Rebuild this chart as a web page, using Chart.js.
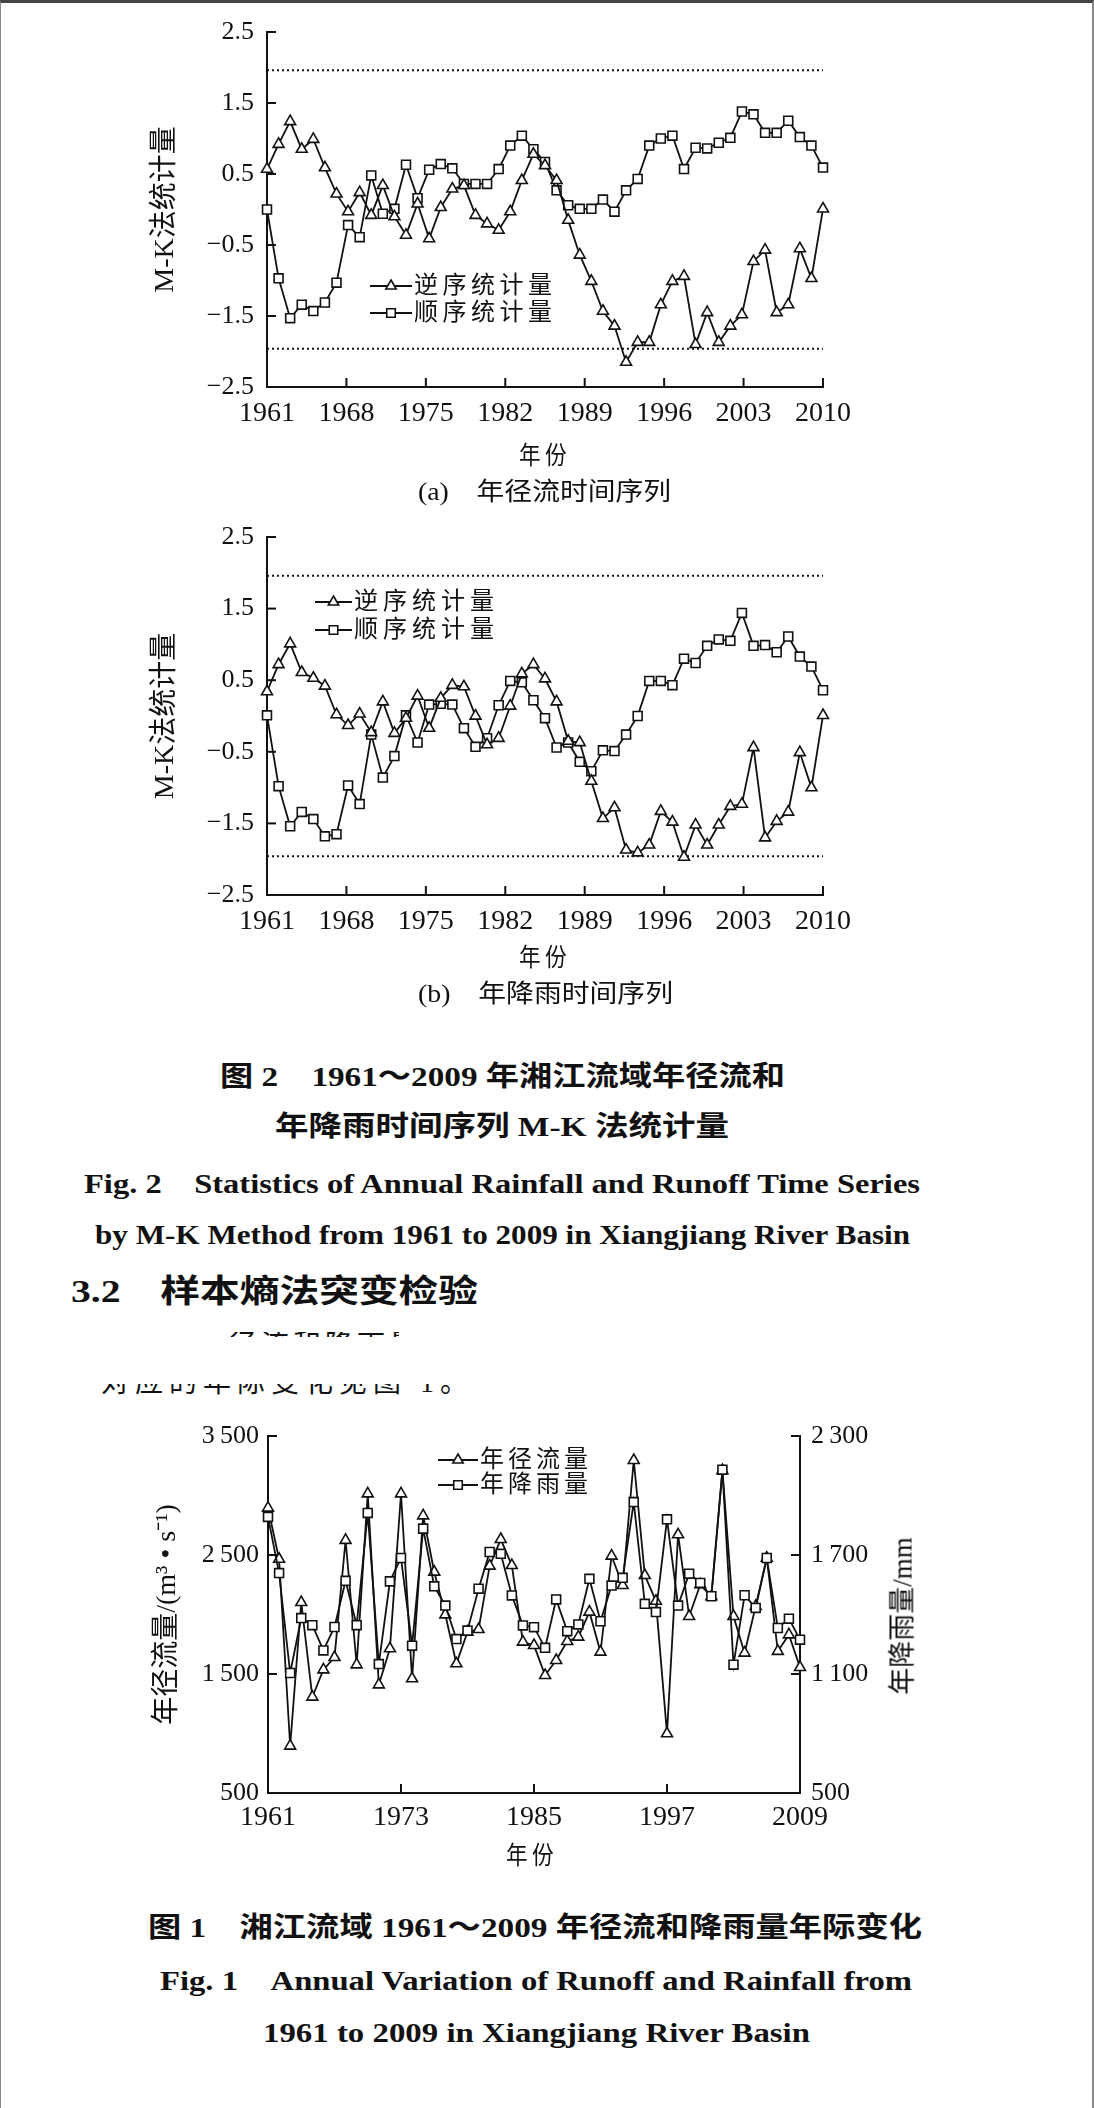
<!DOCTYPE html>
<html>
<head>
<meta charset="utf-8">
<script src="https://cdn.jsdelivr.net/npm/chart.js@4.4.0/dist/chart.umd.min.js"></script>
<style>
  body { margin: 0; background: #fff; }
  #page { position: relative; width: 1094px; height: 2108px; overflow: hidden; background: #fff;
          border-top: 3px solid #444; border-left: 1px solid #888; border-right: 2px solid #888; box-sizing: border-box; }
  .box { position: absolute; }
  .txt { position: absolute; white-space: nowrap; line-height: 1; color: #111;
         font-family: "Liberation Serif", "Noto Sans CJK SC", serif; transform-origin: left center; }
  .cap { font-weight: bold; font-size: 28px; }
  .clip { position: absolute; overflow: hidden; }
</style>
</head>
<body>
<div id="page">
  <div class="box" style="left:100px;top:0px;"><canvas id="mkRunoff" width="760" height="440"></canvas></div>
  <div class="box" style="left:100px;top:505px;"><canvas id="mkRain" width="760" height="440"></canvas></div>
  <div class="box" style="left:100px;top:1400px;"><canvas id="annual" width="860" height="440"></canvas></div>

  <div class="txt fit" data-x="518" data-y="452" data-w="52" style="font-size:25px;letter-spacing:5px;">年份</div>
  <div class="txt fit" data-x="417" data-y="488" data-w="253" style="font-size:25px;">(a)　年径流时间序列</div>
  <div class="txt fit" data-x="518" data-y="954" data-w="52" style="font-size:25px;letter-spacing:5px;">年份</div>
  <div class="txt fit" data-x="417" data-y="990" data-w="255" style="font-size:25px;">(b)　年降雨时间序列</div>

  <div class="txt cap fit" data-x="219" data-y="1074" data-w="565">图 2　1961～2009 年湘江流域年径流和</div>
  <div class="txt cap fit" data-x="274" data-y="1124" data-w="454">年降雨时间序列 M-K 法统计量</div>
  <div class="txt cap fit" data-x="83" data-y="1181" data-w="836">Fig. 2　Statistics of Annual Rainfall and Runoff Time Series</div>
  <div class="txt cap fit" data-x="94" data-y="1232" data-w="815">by M-K Method from 1961 to 2009 in Xiangjiang River Basin</div>
  <div class="txt cap fit" data-x="70" data-y="1288" data-w="407" style="font-size:32px;">3.2　样本熵法突变检验</div>

  <div class="clip" style="left:228px;top:1329px;width:170px;height:5px;">
    <div class="txt" style="left:0;top:0;font-size:28px;letter-spacing:4px;">径流和降雨量</div>
  </div>
  <div class="clip" style="left:100px;top:1381px;width:390px;height:12px;">
    <div class="txt" style="left:0;top:-15px;font-size:28px;letter-spacing:6px;">对应的年际变化见图 1。</div>
  </div>

  <div class="txt fit" data-x="505" data-y="1852" data-w="52" style="font-size:25px;letter-spacing:5px;">年份</div>
  <div class="txt" style="left:902px;top:1613px;font-size:27px;transform-origin:center center;transform:translate(-50%,-50%) rotate(-90deg);">年降雨量/mm</div>

  <div class="txt cap fit" data-x="147" data-y="1925" data-w="774">图 1　湘江流域 1961～2009 年径流和降雨量年际变化</div>
  <div class="txt cap fit" data-x="159" data-y="1978" data-w="752">Fig. 1　Annual Variation of Runoff and Rainfall from</div>
  <div class="txt cap fit" data-x="262" data-y="2030" data-w="547">1961 to 2009 in Xiangjiang River Basin</div>
</div>

<script>
const ink = "#111";
const serif = "'Liberation Serif', 'Noto Sans CJK SC', serif";

// years of the series (1961-2009)
const years = Array.from({ length: 49 }, (_, i) => 1961 + i);

// M-K axis labels and ticks
const mkAxisYears = [1961, 1968, 1975, 1982, 1989, 1996, 2003, 2010];
const mkTicks = [-2.5, -1.5, -0.5, 0.5, 1.5, 2.5];
const critValue = 1.96;

// (a) runoff M-K statistics
const runoffBackward = [0.57, 0.92, 1.24, 0.85, 0.99, 0.59, 0.22, -0.03, 0.24, -0.08,
  0.34, -0.10, -0.36, 0.08, -0.41, 0.03, 0.29, 0.34, -0.08, -0.20,
  -0.29, -0.03, 0.41, 0.78, 0.62, 0.41, -0.15, -0.64, -1.01, -1.43,
  -1.64, -2.15, -1.87, -1.87, -1.34, -1.01, -0.94, -1.90, -1.45, -1.87,
  -1.64, -1.48, -0.73, -0.57, -1.45, -1.34, -0.55, -0.97, 0.01];
const runoffForward = [0.00, -0.97, -1.53, -1.34, -1.43, -1.31, -1.03, -0.22, -0.39, 0.48,
  -0.06, 0.01, 0.63, 0.16, 0.56, 0.64, 0.58, 0.36, 0.36, 0.36,
  0.57, 0.90, 1.04, 0.85, 0.67, 0.27, 0.06, 0.01, 0.01, 0.14,
  -0.03, 0.27, 0.43, 0.90, 1.00, 1.04, 0.57, 0.87, 0.86, 0.94,
  1.01, 1.38, 1.34, 1.08, 1.08, 1.25, 1.02, 0.90, 0.59];

// (b) rainfall M-K statistics
const rainBackward = [0.34, 0.72, 1.01, 0.61, 0.53, 0.42, 0.02, -0.13, 0.03, -0.23,
  0.20, -0.24, -0.03, 0.28, -0.17, 0.25, 0.43, 0.41, 0.00, -0.40,
  -0.31, 0.14, 0.59, 0.72, 0.52, 0.20, -0.35, -0.37, -0.91, -1.43,
  -1.28, -1.87, -1.91, -1.80, -1.33, -1.48, -1.97, -1.52, -1.80, -1.52,
  -1.26, -1.23, -0.44, -1.70, -1.47, -1.34, -0.51, -1.00, 0.01];
const rainForward = [0.01, -0.98, -1.54, -1.34, -1.44, -1.68, -1.65, -0.97, -1.23, -0.26,
  -0.86, -0.56, 0.01, -0.37, 0.16, 0.17, 0.16, -0.17, -0.43, -0.31,
  0.15, 0.49, 0.47, 0.22, -0.03, -0.44, -0.37, -0.64, -0.77, -0.48,
  -0.49, -0.26, 0.00, 0.49, 0.49, 0.43, 0.80, 0.74, 0.98, 1.07,
  1.05, 1.44, 0.98, 0.99, 0.89, 1.11, 0.83, 0.69, 0.36];

// annual runoff (m3/s) and rainfall (mm)
const annualAxisYears = [1961, 1973, 1985, 1997, 2009];
const runoffTicks = [500, 1500, 2500, 3500];
const rainTicks = [500, 1100, 1700, 2300];
const annualRunoff = [2895, 2466, 895, 2102, 1307, 1536, 1640, 2624, 1578, 3015,
  1410, 1713, 3015, 1461, 2830, 2357, 1998, 1587, 1853, 1875,
  2408, 2632, 2413, 1769, 1741, 1489, 1615, 1775, 1811, 2021,
  1685, 2492, 2245, 3296, 2329, 2113, 999, 2671, 1985, 2251,
  2150, 3210, 1985, 1677, 2069, 2475, 1691, 1830, 1556];
const annualRain = [1892, 1609, 1105, 1382, 1346, 1219, 1337, 1570, 1346, 1912,
  1150, 1567, 1685, 1243, 1833, 1542, 1445, 1276, 1319, 1530,
  1715, 1706, 1496, 1345, 1336, 1232, 1476, 1316, 1350, 1580,
  1366, 1546, 1585, 1967, 1454, 1412, 1880, 1445, 1606, 1559,
  1492, 2130, 1147, 1497, 1433, 1685, 1332, 1379, 1273];

/* Draws short tick marks pointing into the plot, as in the printed figure. */
const inwardTicks = {
  id: "inwardTicks",
  beforeDatasetsDraw(chart, args, opts) {
    const ctx = chart.ctx;
    const area = chart.chartArea;
    const len = opts.len || 9;
    ctx.save();
    ctx.strokeStyle = ink;
    ctx.lineWidth = 2;
    Object.values(chart.scales).forEach((scale) => {
      scale.ticks.forEach((tick) => {
        const p = scale.getPixelForValue(tick.value);
        ctx.beginPath();
        if (scale.axis === "x") {
          ctx.moveTo(p, area.bottom);
          ctx.lineTo(p, area.bottom - len);
        } else if (scale.position === "left") {
          ctx.moveTo(area.left, p);
          ctx.lineTo(area.left + len, p);
        } else {
          ctx.moveTo(area.right, p);
          ctx.lineTo(area.right - len, p);
        }
        ctx.stroke();
      });
    });
    ctx.restore();
  },
};

/* Legend drawn as line-marker-line followed by the label. */
function drawMarker(ctx, style, x, y, r) {
  ctx.beginPath();
  if (style === "triangle") {
    ctx.moveTo(x, y - r);
    ctx.lineTo(x + 0.866 * r, y + 0.5 * r);
    ctx.lineTo(x - 0.866 * r, y + 0.5 * r);
    ctx.closePath();
  } else {
    const h = r * Math.SQRT1_2;
    ctx.rect(x - h, y - h, 2 * h, 2 * h);
  }
  ctx.fill();
  ctx.stroke();
}

const lineLegend = {
  id: "lineLegend",
  afterDatasetsDraw(chart, args, opts) {
    if (!opts.items) return;
    const ctx = chart.ctx;
    opts.items.forEach((index, row) => {
      const ds = chart.data.datasets[index];
      const y = opts.y + row * opts.rowGap;
      ctx.save();
      ctx.strokeStyle = ink;
      ctx.lineWidth = 1.8;
      ctx.beginPath();
      ctx.moveTo(opts.x, y);
      ctx.lineTo(opts.x + opts.lineLen, y);
      ctx.stroke();
      ctx.fillStyle = "#fff";
      ctx.lineWidth = 1.6;
      drawMarker(ctx, ds.pointStyle, opts.x + opts.lineLen / 2, y, 6);
      ctx.fillStyle = ink;
      ctx.font = "24px " + serif;
      ctx.textBaseline = "middle";
      Array.from(ds.label).forEach((ch, k) => {
        ctx.fillText(ch, opts.x + opts.lineLen + 2 + k * opts.advance, y + 1);
      });
      ctx.restore();
    });
  },
};

Chart.register(inwardTicks, lineLegend);

function seriesStyle(label, style, values, xs) {
  return {
    label: label,
    data: xs.map((x, i) => ({ x: x, y: values[i] })),
    pointStyle: style,
    pointRadius: 6.3,
    pointBorderWidth: 1.6,
    pointBackgroundColor: "#fff",
    pointBorderColor: ink,
    borderColor: ink,
    borderWidth: 1.8,
    tension: 0,
    clip: false,
  };
}

function dottedLine(value) {
  return {
    label: "",
    data: [{ x: years[0], y: value }, { x: years[years.length - 1], y: value }],
    borderColor: ink,
    borderWidth: 2,
    borderDash: [2, 3],
    pointRadius: 0,
    clip: false,
  };
}

function mkTickLabel(v) {
  const s = Math.abs(v).toFixed(1);
  return v < 0 ? "\u2212" + s : s;
}

/* M-K statistic chart: the 49 yearly points span the printed 1961-2010 axis. */
function makeMKChart(canvasId, backward, forward, xAxisHeight, legend) {
  new Chart(document.getElementById(canvasId), {
    type: "line",
    data: {
      datasets: [
        seriesStyle("逆序统计量", "triangle", backward, years),
        seriesStyle("顺序统计量", "rect", forward, years),
        dottedLine(critValue),
        dottedLine(-critValue),
      ],
    },
    options: {
      responsive: false,
      animation: false,
      layout: { padding: { top: 29, right: 37, left: 0, bottom: 0 } },
      plugins: {
        legend: { display: false },
        tooltip: { enabled: false },
        inwardTicks: { len: 9 },
        lineLegend: legend,
      },
      scales: {
        x: {
          type: "linear",
          min: years[0],
          max: years[years.length - 1],
          grid: { display: false, drawTicks: false, tickLength: 0 },
          border: { display: true, color: ink, width: 2 },
          afterBuildTicks: (scale) => {
            scale.ticks = mkAxisYears.map((t) => ({
              value: years[0] + ((t - mkAxisYears[0]) * (years.length - 1)) / (years.length),
            }));
          },
          afterFit: (scale) => { scale.height = xAxisHeight; },
          ticks: {
            autoSkip: false,
            maxRotation: 0,
            padding: 10,
            color: ink,
            font: { family: serif, size: 28 },
            callback: (v, i) => String(mkAxisYears[i]),
          },
        },
        y: {
          type: "linear",
          min: -2.5,
          max: 2.5,
          grid: { display: false, drawTicks: false, tickLength: 0 },
          border: { display: true, color: ink, width: 2 },
          afterBuildTicks: (scale) => { scale.ticks = mkTicks.map((v) => ({ value: v })); },
          afterFit: (scale) => { scale.width = 166; },
          ticks: {
            padding: 13,
            color: ink,
            font: { family: serif, size: 26 },
            callback: (v) => mkTickLabel(v),
          },
          title: {
            display: true,
            text: "M-K法统计量",
            color: ink,
            font: { family: serif, size: 28 },
            padding: { top: 48, bottom: 0 },
          },
        },
      },
    },
  });
}

function thousands(v) {
  if (v < 1000) return String(v);
  return Math.floor(v / 1000) + "\u2009" + String(v % 1000).padStart(3, "0");
}

function makeAnnualChart() {
  const runoff = seriesStyle("年径流量", "triangle", annualRunoff, years);
  const rain = seriesStyle("年降雨量", "rect", annualRain, years);
  rain.yAxisID = "y2";
  new Chart(document.getElementById("annual"), {
    type: "line",
    // rainfall first so its squares sit on top
    data: { datasets: [rain, runoff] },
    options: {
      responsive: false,
      animation: false,
      layout: { padding: { top: 33, right: 0, left: 0, bottom: 0 } },
      plugins: {
        legend: { display: false },
        tooltip: { enabled: false },
        inwardTicks: { len: 9 },
        lineLegend: { items: [1, 0], x: 337, y: 57, rowGap: 25, lineLen: 40, advance: 28 },
      },
      scales: {
        x: {
          type: "linear",
          min: years[0],
          max: years[years.length - 1],
          grid: { display: false, drawTicks: false, tickLength: 0 },
          border: { display: true, color: ink, width: 2 },
          afterBuildTicks: (scale) => { scale.ticks = annualAxisYears.map((v) => ({ value: v })); },
          afterFit: (scale) => { scale.height = 50; },
          ticks: {
            autoSkip: false,
            maxRotation: 0,
            padding: 8,
            color: ink,
            font: { family: serif, size: 28 },
            callback: (v) => String(v),
          },
        },
        y: {
          type: "linear",
          position: "left",
          min: 500,
          max: 3500,
          grid: { display: false, drawTicks: false, tickLength: 0 },
          border: { display: true, color: ink, width: 2 },
          afterBuildTicks: (scale) => { scale.ticks = runoffTicks.map((v) => ({ value: v })); },
          afterFit: (scale) => { scale.width = 167; },
          ticks: { padding: 9, color: ink, font: { family: serif, size: 26 }, callback: (v) => thousands(v) },
          title: {
            display: true,
            text: "年径流量/(m³ • s⁻¹)",
            color: ink,
            font: { family: serif, size: 28 },
            padding: { top: 50, bottom: 0 },
          },
        },
        y2: {
          type: "linear",
          position: "right",
          min: 500,
          max: 2300,
          grid: { display: false, drawTicks: false, tickLength: 0 },
          border: { display: true, color: ink, width: 2 },
          afterBuildTicks: (scale) => { scale.ticks = rainTicks.map((v) => ({ value: v })); },
          afterFit: (scale) => { scale.width = 161; },
          ticks: { padding: 11, color: ink, font: { family: serif, size: 26 }, callback: (v) => thousands(v) },
        },
      },
    },
  });
}

/* Places caption lines and squeezes them to the printed width. */
function fitCaptions() {
  document.querySelectorAll(".fit").forEach((el) => {
    const x = Number(el.dataset.x);
    const y = Number(el.dataset.y);
    const w = Number(el.dataset.w);
    el.style.left = x + "px";
    const r = el.getBoundingClientRect();
    el.style.top = (y - r.height / 2) + "px";
    el.style.transform = "scaleX(" + (w / r.width).toFixed(4) + ")";
  });
}

document.addEventListener("DOMContentLoaded", function () {
  fitCaptions();
  makeMKChart("mkRunoff", runoffBackward, runoffForward, 56,
    { items: [0, 1], x: 269, y: 283, rowGap: 27, lineLen: 42, advance: 28.5 });
  makeMKChart("mkRain", rainBackward, rainForward, 53,
    { items: [0, 1], x: 214, y: 94, rowGap: 28, lineLen: 37, advance: 29 });
  makeAnnualChart();
});
</script>
</body>
</html>
